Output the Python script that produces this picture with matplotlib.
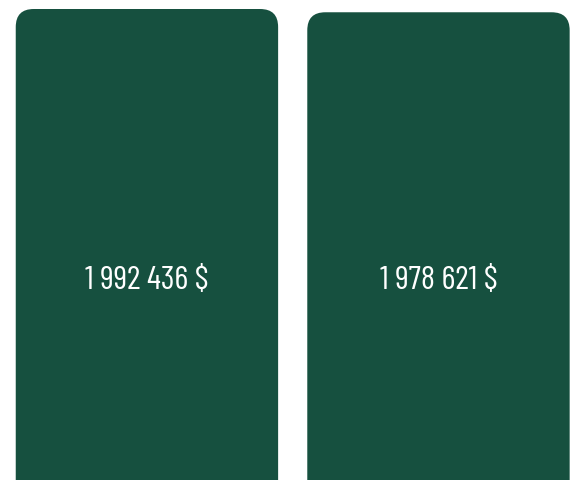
import matplotlib
matplotlib.use("Agg")
import matplotlib.pyplot as plt
from matplotlib.patches import FancyBboxPatch

categories = ["A", "B"]
values = [1992436, 1978621]
labels = ["1 992 436 $", "1 978 621 $"]

color = "#16503f"
W, H = 578, 481
fig = plt.figure(figsize=(W / 100, H / 100), dpi=100)
ax = fig.add_axes([0, 0, 1, 1])
ax.set_axis_off()

xlim = (-0.504, 1.4786)
ylim = (0, 2034736)
ax.set_xlim(*xlim)
ax.set_ylim(*ylim)

bar_w = 0.90
x_per_px = (xlim[1] - xlim[0]) / W
y_per_px = (ylim[1] - ylim[0]) / H
radius_px = 18
r = radius_px * x_per_px
aspect = y_per_px / x_per_px

bars = ax.bar(range(len(categories)), values, width=bar_w, color="none")
for b in bars:
    x0 = b.get_x()
    top = b.get_height()
    bottom = -radius_px * 2 * y_per_px
    p = FancyBboxPatch((x0, bottom), b.get_width(), top - bottom,
                       boxstyle=f"round,pad=0,rounding_size={r}",
                       mutation_aspect=aspect, facecolor=color, edgecolor="none")
    ax.add_patch(p)

for i, (v, lab) in enumerate(zip(values, labels)):
    ax.text(i, 0.416, lab, transform=ax.get_xaxis_transform(), ha="center", va="center",
            color="white", fontsize=24, family=["Barlow Condensed", "DejaVu Sans"],
            fontweight=400)

fig.savefig("out.png", dpi=100, facecolor="white")
